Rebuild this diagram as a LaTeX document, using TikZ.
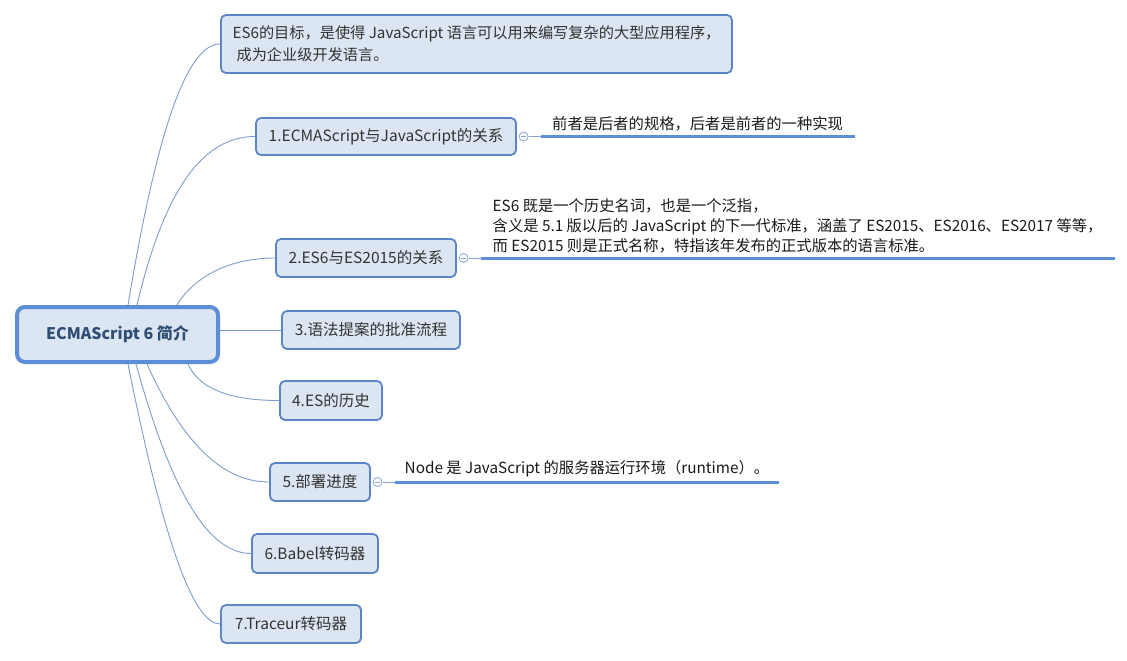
\documentclass[tikz,border=0pt]{standalone}
\usepackage{fontspec}
\setmainfont{Noto Sans CJK SC}
\usetikzlibrary{calc}
\definecolor{nodefill}{HTML}{DCE6F2}
\definecolor{nodeborder}{HTML}{5B86C5}
\definecolor{rootborder}{HTML}{5B8DD8}
\definecolor{roottext}{HTML}{2F4E74}
\definecolor{branchline}{HTML}{7D9DCB}
\definecolor{leafline}{HTML}{5B8DD8}
\definecolor{topictext}{HTML}{333333}
\definecolor{collapse}{HTML}{8BA6CC}
\pgfdeclarelayer{bg}
\pgfsetlayers{bg,main}
\tikzset{
  rootbox/.style={draw=rootborder, line width=4pt, fill=nodefill, rounded corners=8pt,
    minimum width=201pt, minimum height=55pt, inner sep=0pt,
    font=\fontsize{16}{20}\selectfont\bfseries, text=roottext},
  topic/.style={draw=nodeborder, line width=1.8pt, fill=nodefill, rounded corners=5pt,
    inner sep=0pt, font=\fontsize{15.5}{22}\selectfont, text=topictext},
  leaf/.style={anchor=south west, inner xsep=11.5pt, inner ysep=5pt,
    font=\fontsize{15.3}{20}\selectfont, text=black!90, align=left},
  leafrule/.style={draw=leafline, line width=3pt},
  branch/.style={draw=branchline, line width=0.9pt},
  collapser/.style={circle, draw=collapse, line width=0.8pt, fill=white, minimum size=9pt, inner sep=0pt,
    path picture={\draw[collapse, line width=0.7pt] ([xshift=1.8pt]path picture bounding box.west) -- ([xshift=-1.8pt]path picture bounding box.east);}},
  thinlink/.style={draw=collapse, line width=0.8pt}
}
\begin{document}
\begin{tikzpicture}[x=1pt,y=-1pt]
\useasboundingbox (0,0) rectangle (1127,661);

\node[rootbox] (root) at (117.5,334.5) {ECMAScript 6 简介};

\node[topic, minimum width=511pt, minimum height=58pt, inner xsep=10.5pt, align=left,
      font=\fontsize{15.2}{22}\selectfont] (n0) at (476.5,44)
  {ES6的目标，是使得 JavaScript 语言可以用来编写复杂的大型应用程序，\\\hspace*{4pt}成为企业级开发语言。};
\node[topic, minimum width=260pt, minimum height=37pt] (n1) at (386,136.5) {1.ECMAScript与JavaScript的关系};
\node[topic, minimum width=180pt, minimum height=38pt] (n2) at (366,258) {2.ES6与ES2015的关系};
\node[topic, minimum width=178pt, minimum height=38pt] (n3) at (371,330) {3.语法提案的批准流程};
\node[topic, minimum width=102pt, minimum height=39pt] (n4) at (331,400.5) {4.ES的历史};
\node[topic, minimum width=100pt, minimum height=38pt] (n5) at (320,482) {5.部署进度};
\node[topic, minimum width=126pt, minimum height=39pt] (n6) at (315,553.5) {6.Babel转码器};
\node[topic, minimum width=140pt, minimum height=38pt] (n7) at (291,624) {7.Traceur转码器};

% collapse markers and leaves
\node[collapser] (c1) at ([xshift=6.7pt]n1.east) {};
\node[leaf] (l1) at ([xshift=12pt]c1.east) {前者是后者的规格，后者是前者的一种实现};
\node[collapser] (c2) at ([xshift=6.7pt]n2.east) {};
\node[leaf, inner xsep=12pt] (l2) at ([xshift=12pt]c2.east)
  {ES6 既是一个历史名词，也是一个泛指，\\
   含义是 5.1 版以后的 JavaScript 的下一代标准，涵盖了 ES2015、ES2016、ES2017 等等，\\
   而 ES2015 则是正式名称，特指该年发布的正式版本的语言标准。};
\node[collapser] (c5) at ([xshift=6.7pt]n5.east) {};
\node[leaf, inner xsep=10pt] (l5) at ([xshift=12pt]c5.east) {Node 是 JavaScript 的服务器运行环境（runtime）。};

\draw[leafrule] (l1.south west) -- (l1.south east);
\draw[leafrule] (l2.south west) -- (l2.south east);
\draw[leafrule] (l5.south west) -- (l5.south east);
\draw[thinlink] (c1.east) -- (l1.south west);
\draw[thinlink] (c2.east) -- (l2.south west);
\draw[thinlink] (c5.east) -- (l5.south west);

\begin{pgfonlayer}{bg}
\draw[branch] ([xshift=10.5pt]root.north) .. controls +(29,-175) and +(-33,0) .. (n0.west);
\draw[branch] ([xshift=19.5pt]root.north) .. controls +(27,-114) and +(-53,0) .. (n1.west);
\draw[branch] ([xshift=59.5pt]root.north) .. controls +(15,-25) and +(-50,0) .. (n2.west);
\draw[branch] (root.east |- n3.west) -- (n3.west);
\draw[branch] ([xshift=70.5pt]root.south) .. controls +(10,22) and +(-55,0) .. (n4.west);
\draw[branch] ([xshift=29.5pt]root.south) .. controls +(36,80) and +(-46,0) .. (n5.west);
\draw[branch] ([xshift=18.5pt]root.south) .. controls +(35,127) and +(-43,0) .. (n6.west);
\draw[branch] ([xshift=10.5pt]root.south) .. controls +(35,175) and +(-27,0) .. (n7.west);
\end{pgfonlayer}
\end{tikzpicture}
\end{document}
